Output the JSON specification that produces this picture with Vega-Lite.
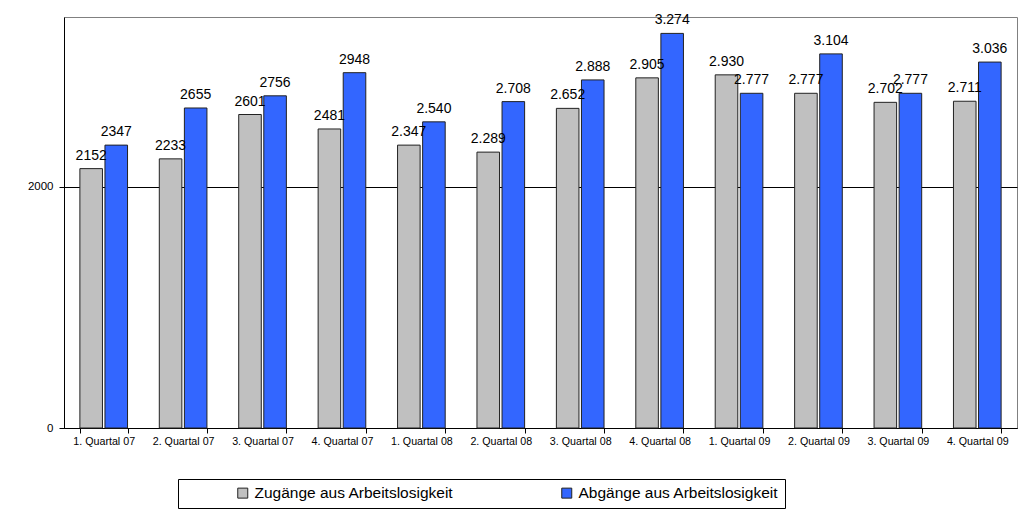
{
  "$schema": "https://vega.github.io/schema/vega-lite/v6.json",
  "autosize": "none",
  "width": 953,
  "height": 411,
  "padding": {"left": 64, "top": 17, "right": 3, "bottom": 92},
  "background": "white",
  "config": {
    "font": "Liberation Sans",
    "view": {"stroke": "#808080", "strokeWidth": 1}
  },
  "data": {
    "values": [
      {"q": "1. Quartal 07", "s": "Zugänge aus Arbeitslosigkeit", "v": 2152, "t": "2152"},
      {"q": "1. Quartal 07", "s": "Abgänge aus Arbeitslosigkeit", "v": 2347, "t": "2347"},
      {"q": "2. Quartal 07", "s": "Zugänge aus Arbeitslosigkeit", "v": 2233, "t": "2233"},
      {"q": "2. Quartal 07", "s": "Abgänge aus Arbeitslosigkeit", "v": 2655, "t": "2655"},
      {"q": "3. Quartal 07", "s": "Zugänge aus Arbeitslosigkeit", "v": 2601, "t": "2601"},
      {"q": "3. Quartal 07", "s": "Abgänge aus Arbeitslosigkeit", "v": 2756, "t": "2756"},
      {"q": "4. Quartal 07", "s": "Zugänge aus Arbeitslosigkeit", "v": 2481, "t": "2481"},
      {"q": "4. Quartal 07", "s": "Abgänge aus Arbeitslosigkeit", "v": 2948, "t": "2948"},
      {"q": "1. Quartal 08", "s": "Zugänge aus Arbeitslosigkeit", "v": 2347, "t": "2.347"},
      {"q": "1. Quartal 08", "s": "Abgänge aus Arbeitslosigkeit", "v": 2540, "t": "2.540"},
      {"q": "2. Quartal 08", "s": "Zugänge aus Arbeitslosigkeit", "v": 2289, "t": "2.289"},
      {"q": "2. Quartal 08", "s": "Abgänge aus Arbeitslosigkeit", "v": 2708, "t": "2.708"},
      {"q": "3. Quartal 08", "s": "Zugänge aus Arbeitslosigkeit", "v": 2652, "t": "2.652"},
      {"q": "3. Quartal 08", "s": "Abgänge aus Arbeitslosigkeit", "v": 2888, "t": "2.888"},
      {"q": "4. Quartal 08", "s": "Zugänge aus Arbeitslosigkeit", "v": 2905, "t": "2.905"},
      {"q": "4. Quartal 08", "s": "Abgänge aus Arbeitslosigkeit", "v": 3274, "t": "3.274"},
      {"q": "1. Quartal 09", "s": "Zugänge aus Arbeitslosigkeit", "v": 2930, "t": "2.930"},
      {"q": "1. Quartal 09", "s": "Abgänge aus Arbeitslosigkeit", "v": 2777, "t": "2.777"},
      {"q": "2. Quartal 09", "s": "Zugänge aus Arbeitslosigkeit", "v": 2777, "t": "2.777"},
      {"q": "2. Quartal 09", "s": "Abgänge aus Arbeitslosigkeit", "v": 3104, "t": "3.104"},
      {"q": "3. Quartal 09", "s": "Zugänge aus Arbeitslosigkeit", "v": 2702, "t": "2.702"},
      {"q": "3. Quartal 09", "s": "Abgänge aus Arbeitslosigkeit", "v": 2777, "t": "2.777"},
      {"q": "4. Quartal 09", "s": "Zugänge aus Arbeitslosigkeit", "v": 2711, "t": "2.711"},
      {"q": "4. Quartal 09", "s": "Abgänge aus Arbeitslosigkeit", "v": 3036, "t": "3.036"}
    ]
  },
  "encoding": {
    "x": {
      "field": "q", "type": "nominal", "sort": null,
      "scale": {"paddingInner": 0.4, "paddingOuter": 0.2},
      "axis": {
        "title": null, "labelAngle": 0, "labelFontSize": 10.7, "labelColor": "black",
        "domainColor": "black", "tickColor": "black", "tickSize": 5, "tickBand": "extent",
        "labelPadding": 3
      }
    },
    "xOffset": {
      "field": "s", "type": "nominal",
      "sort": ["Zugänge aus Arbeitslosigkeit", "Abgänge aus Arbeitslosigkeit"],
      "scale": {"paddingInner": 0.1}
    },
    "y": {
      "field": "v", "type": "quantitative",
      "scale": {"domain": [0, 3410], "nice": false},
      "axis": {
        "title": null, "values": [0, 2000], "format": "d", "grid": true, "gridColor": "black", "gridOpacity": 1,
        "labelFontSize": 11.5, "labelColor": "black", "domainColor": "black", "tickColor": "black",
        "tickSize": 5, "labelPadding": 6
      }
    }
  },
  "layer": [
    {
      "mark": {"type": "bar", "stroke": "#222222", "strokeWidth": 1},
      "encoding": {
        "color": {
          "field": "s", "type": "nominal",
          "scale": {
            "domain": ["Zugänge aus Arbeitslosigkeit", "Abgänge aus Arbeitslosigkeit"],
            "range": ["#C0C0C0", "#3366FF"]
          },
          "legend": {
            "title": null, "orient": "none", "direction": "horizontal",
            "legendX": 114, "legendY": 462,
            "symbolType": "square", "symbolSize": 100, "symbolStrokeColor": "#222222",
            "symbolStrokeWidth": 1, "symbolOffset": 51,
            "labelFontSize": 15.5, "labelColor": "black", "labelOffset": 4, "labelLimit": 400,
            "columnPadding": 54, "padding": 6,
            "strokeColor": "black", "fillColor": "white"
          }
        }
      }
    },
    {
      "mark": {"type": "text", "fontSize": 14, "baseline": "alphabetic", "dy": -9, "color": "black"},
      "encoding": {"text": {"field": "t"}}
    }
  ]
}
